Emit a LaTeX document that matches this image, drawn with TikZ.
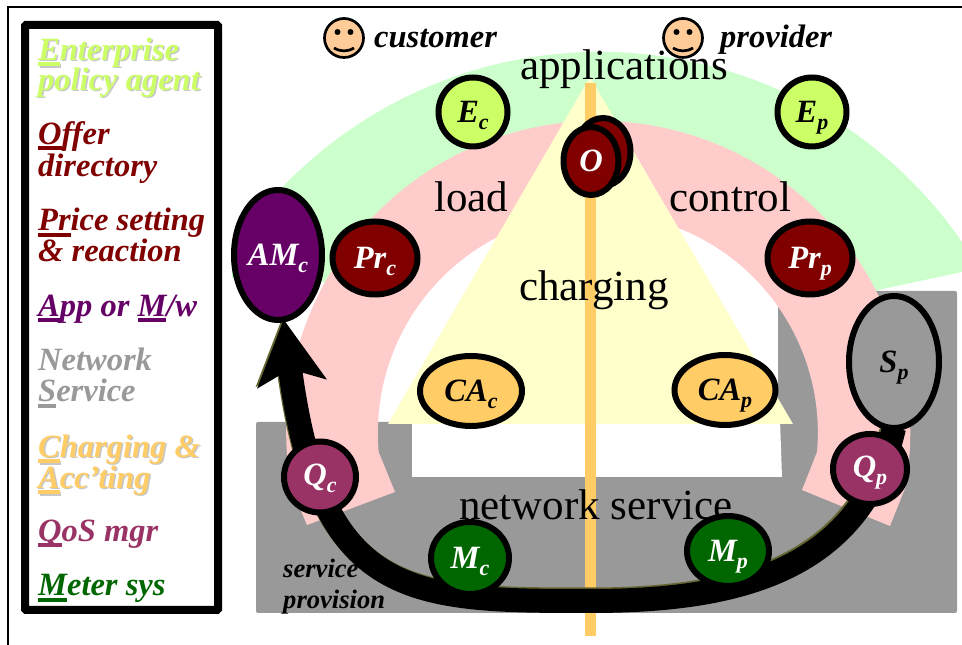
\documentclass[tikz,border=0pt]{standalone}
\usepackage{fontspec}
\setmainfont{Liberation Serif}
\usetikzlibrary{arrows.meta,shapes.geometric,backgrounds}
\definecolor{limefill}{HTML}{CCFF66}
\definecolor{offerred}{HTML}{800000}
\definecolor{appviolet}{HTML}{660066}
\definecolor{netgray}{HTML}{999999}
\definecolor{chargeorange}{HTML}{FFCC66}
\definecolor{qosrose}{HTML}{993366}
\definecolor{meter}{HTML}{006600}
\definecolor{ringgreen}{HTML}{CCFFCC}
\definecolor{ringpink}{HTML}{FFCCCC}
\definecolor{trianglefill}{HTML}{FFFFCC}
\definecolor{skin}{HTML}{FFCC99}
\definecolor{routeshadow}{HTML}{666633}
\newcommand{\vlw}{6pt}
\newcommand{\ufl}[1]{\setbox0=\hbox{#1}\rlap{\rule[-6pt]{\wd0}{4pt}}\box0}
\newcommand{\sublab}[2]{#1\raisebox{-7pt}[0pt][0pt]{\fontsize{22}{22}\selectfont #2}}
\tikzset{
    vtx/.style={ellipse, draw=black, line width=\vlw, inner sep=0pt, outer sep=0pt,
        font=\bfseries\itshape\fontsize{32.5}{34}\selectfont},
    legtext/.style={anchor=base west, inner sep=0pt,
        font=\bfseries\itshape\fontsize{32.5}{34}\selectfont},
    bigtext/.style={anchor=base west, inner sep=0pt, font=\fontsize{43}{45}\selectfont},
    route/.style={line width=24pt, -{Stealth[length=64pt,width=68pt,inset=14pt]}}
}

\begin{document}
\begin{tikzpicture}[x=1pt,y=1pt]
        %\draw[help lines,step=50] (0,0) grid (962,645);
        \useasboundingbox (0,0) rectangle (962,645);

        \node (Ec) [vtx, fill=limefill, minimum width=69pt, minimum height=69pt] at (473,533) {\sublab{E}{c}};
        \node (Ep) [vtx, fill=limefill, minimum width=69pt, minimum height=69pt] at (812,533) {\sublab{E}{p}};
        \node (Oback) [vtx, fill=offerred, minimum width=55pt, minimum height=68pt] at (603,493) {};
        \node (O) [vtx, fill=offerred, text=white, minimum width=55pt, minimum height=68pt] at (591,484) {O};
        \node (Prc) [vtx, fill=offerred, text=white, minimum width=85pt, minimum height=73pt] at (375,387) {\sublab{Pr}{c}};
        \node (Prp) [vtx, fill=offerred, text=white, minimum width=85pt, minimum height=73pt] at (810,387) {\sublab{Pr}{p}};
        \node (AMc) [vtx, fill=appviolet, text=white, minimum width=88pt, minimum height=130pt] at (278,390) {\sublab{AM}{c}};
        \node (CAc) [vtx, fill=chargeorange, minimum width=102pt, minimum height=70pt] at (471,254) {\sublab{CA}{c}};
        \node (CAp) [vtx, fill=chargeorange, minimum width=101pt, minimum height=70pt] at (725,255) {\sublab{CA}{p}};
        \node (Sp) [vtx, fill=netgray, minimum width=90pt, minimum height=132pt] at (894,283) {\sublab{S}{p}};
        \node (Qp) [vtx, fill=qosrose, text=white, minimum width=74pt, minimum height=70pt] at (870,176) {\sublab{Q}{p}};
        \node (Qc) [vtx, fill=qosrose, text=white, minimum width=72pt, minimum height=71pt] at (320,168) {\sublab{Q}{c}};
        \node (Mc) [vtx, fill=meter, text=white, minimum width=78pt, minimum height=72pt] at (470,87) {\sublab{M}{c}};
        \node (Mp) [vtx, fill=meter, text=white, minimum width=82pt, minimum height=70pt] at (728,94) {\sublab{M}{p}};

        \foreach \fx/\fname in {344/cust,683/prov} {
            \node (face\fname) [circle, draw, fill=skin, line width=2.7pt, minimum size=39pt, inner sep=0pt] at (\fx,607) {};
            \fill ([xshift=-6.5pt,yshift=6pt]face\fname.center) circle (3pt);
            \fill ([xshift=6.5pt,yshift=6pt]face\fname.center) circle (3pt);
            \draw[line width=2.7pt] ([xshift=-10pt,yshift=-10pt]face\fname.center) to[bend right=30] ([xshift=10pt,yshift=-10pt]face\fname.center);
        }
        \node (customer) [legtext] at (374,597) {customer};
        \node (provider) [legtext] at (720,597) {provider};

        \node (legend) [draw, fill=white, line width=8pt, rounded corners=1pt, inner sep=0pt,
            minimum width=193pt, minimum height=585pt] at (121.5,327.5) {};
        \foreach \ly/\ltext [count=\i] in {584.5/{\ufl{E}nterprise}, 554.5/{policy agent},
                187.5/{\ufl{C}harging \&}, 156.5/{\ufl{A}cc’ting}}
            \node (legsh\i) [legtext, text=black!22] at (39.5,\ly-1.5) {\ltext};
        \foreach \ly/\lcol/\ltext [count=\i] in {584.5/limefill/{\ufl{E}nterprise}, 554.5/limefill/{policy agent},
                500.5/offerred/{\ufl{O}ffer}, 468.5/offerred/{directory},
                414/offerred/{\ufl{Pr}ice setting}, 383/offerred/{\& reaction},
                328.5/appviolet/{\ufl{A}pp or \ufl{M}/w},
                274/netgray/{Network}, 243/netgray/{\ufl{S}ervice},
                187.5/chargeorange/{\ufl{C}harging \&}, 156.5/chargeorange/{\ufl{A}cc’ting},
                103.5/qosrose/{\ufl{Q}oS mgr}, 49/meter/{\ufl{M}eter sys}}
            \node (leg\i) [legtext, text=\lcol] at (38,\ly) {\ltext};

        \draw[line width=2.5pt] (962,638) -- (8,638) -- (8,0);

        \begin{scope}[on background layer]
            \fill[ringgreen] (962,403) arc[start angle=34.6, end angle=146.5, radius=440]
                -- (232,367) -- (338,362) arc[start angle=150, end angle=27, radius=300]
                -- (878,355) -- (962,373) -- cycle;
            \fill[netgray, rounded corners=2pt] (256,223) -- (778,223) -- (778,354) -- (957,354) -- (957,32) -- (256,32) -- cycle;
            \fill[white] (412,225) -- (780,225) -- (782,168) -- (412,168) -- cycle;
            \fill[ringpink] (307,120) -- (291,158) arc[start angle=190, end angle=-10, radius=312]
                -- (890,119) -- (802,155) -- (817,193) arc[start angle=-5, end angle=185, radius=220]
                -- (395,153) -- cycle;
            \fill[trianglefill] (590,568) -- (793,221) -- (388,221) -- cycle;
            \fill[chargeorange] (585,562) rectangle (596,9);

            \node (applications) [bigtext] at (520,565) {applications};
            \node (load) [bigtext] at (434,433) {load};
            \node (control) [bigtext] at (669,433) {control};
            \node (charging) [bigtext] at (519,344) {charging};
            \node (netservice) [bigtext] at (459,125.5) {network service};
            \node (service) [legtext, font=\bfseries\itshape\fontsize{26.6}{28}\selectfont] at (283,67) {service};
            \node (provision) [legtext, font=\bfseries\itshape\fontsize{26.6}{28}\selectfont] at (283,36) {provision};

            \coordinate (svcbend) at (590,44);
            \foreach \acol/\ashift in {routeshadow/1.5,black/0}
                \draw[route, draw=\acol, transform canvas={shift={(-\ashift,\ashift)}}]
                    (Sp.south) .. controls (860,70) and (730,44) .. (svcbend)
                    .. controls (410,44) and (320,45) .. (AMc.275);
        \end{scope}
\end{tikzpicture}
\end{document}
